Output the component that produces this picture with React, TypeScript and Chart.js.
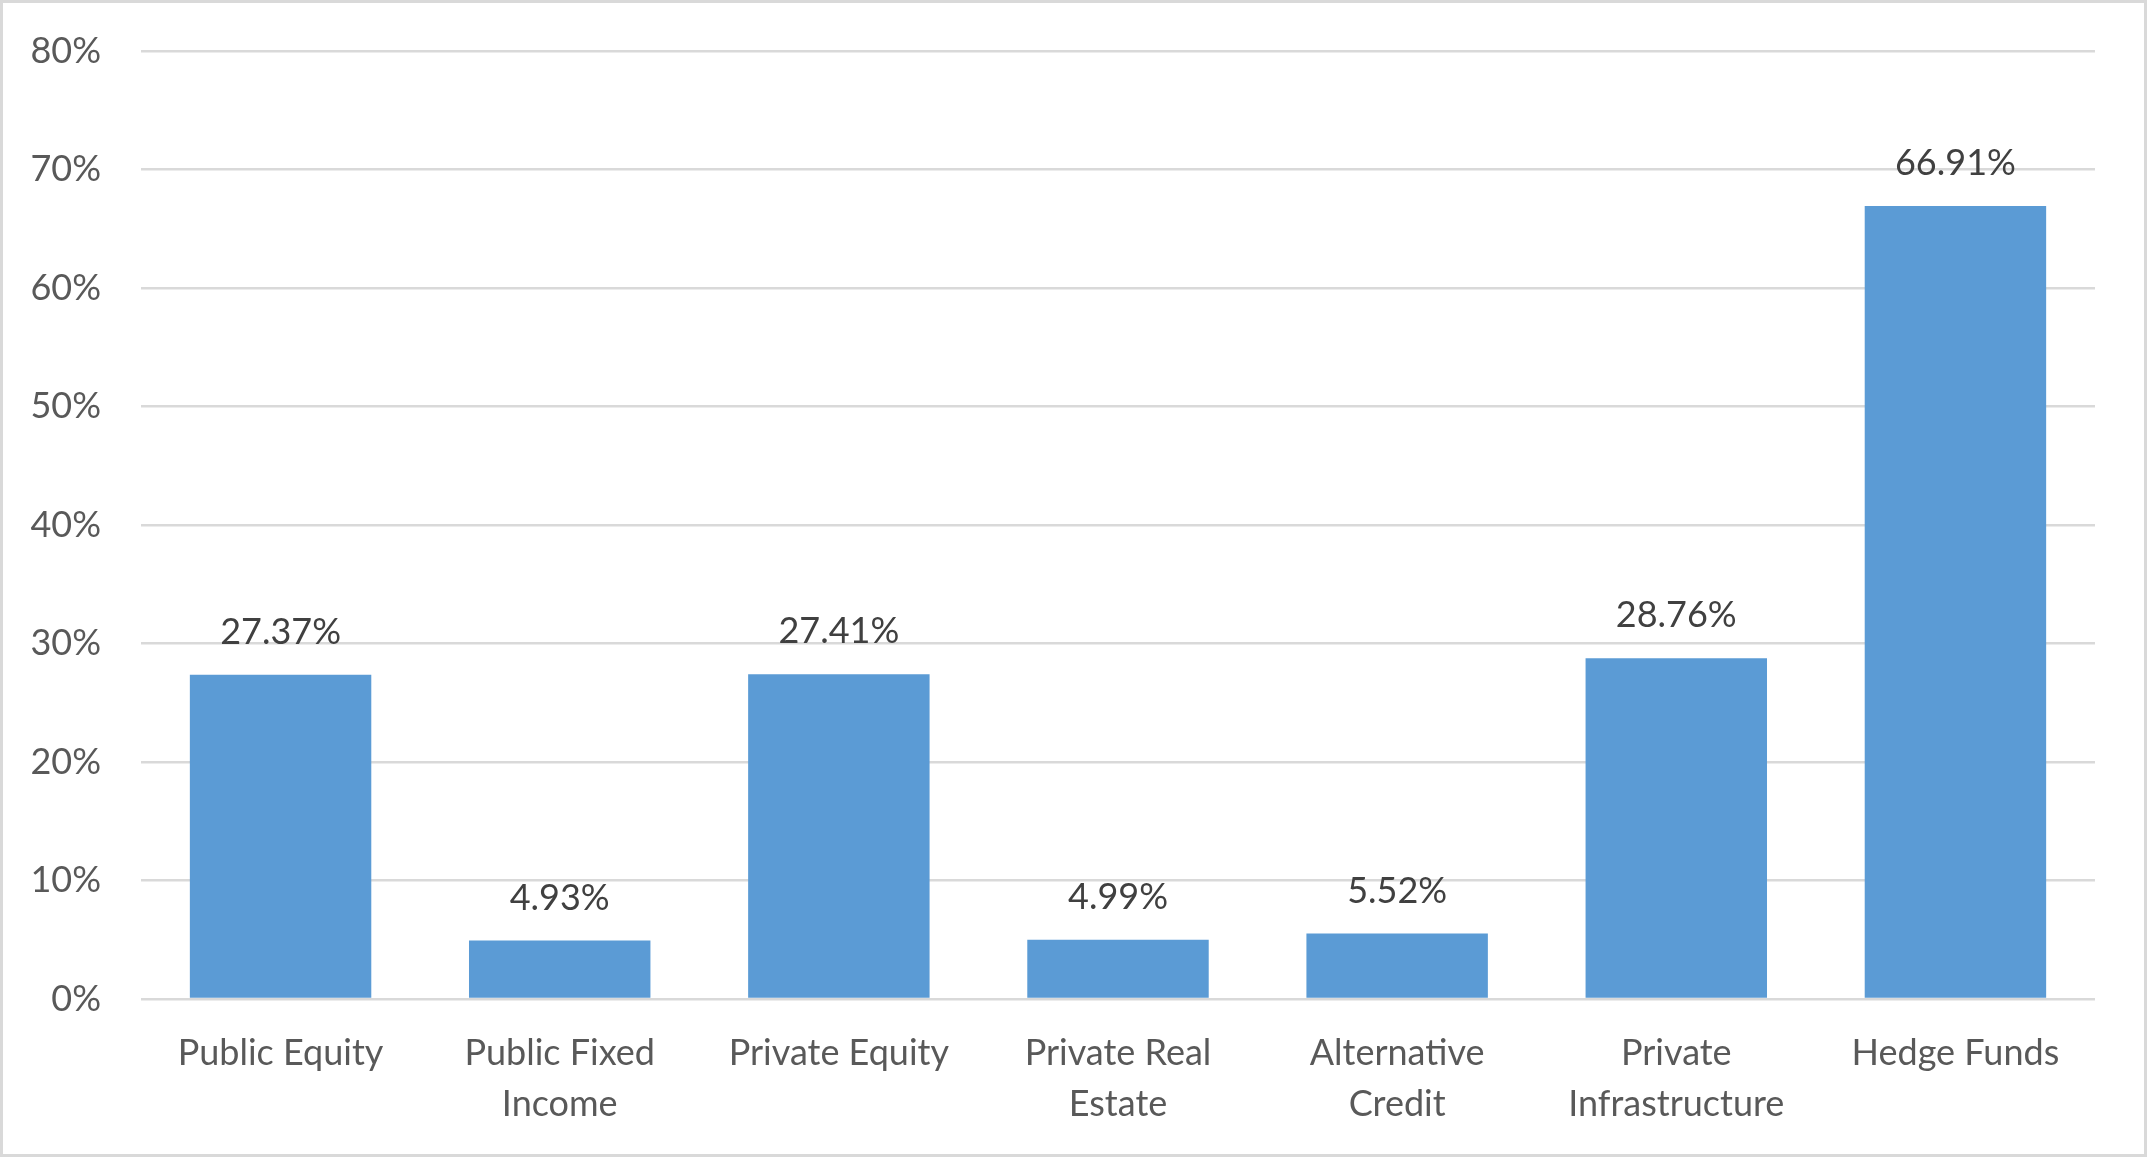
import React, { useEffect, useRef } from "react";
import { Chart, registerables } from "chart.js";

Chart.register(...registerables);

const categories: (string | string[])[] = [
  "Public Equity",
  ["Public Fixed", "Income"],
  "Private Equity",
  ["Private Real", "Estate"],
  ["Alternative", "Credit"],
  ["Private", "Infrastructure"],
  "Hedge Funds",
];
const values: number[] = [27.37, 4.93, 27.41, 4.99, 5.52, 28.76, 66.91];
const yTicks: number[] = [0, 10, 20, 30, 40, 50, 60, 70, 80];

const W = 2147;
const H = 1157;
const FONT = "Lato, 'Noto Sans', sans-serif";

const frame = {
  id: "frame",
  beforeDraw(chart: any) {
    const { ctx, width, height } = chart;
    ctx.save();
    ctx.fillStyle = "#ffffff";
    ctx.fillRect(0, 0, width, height);
    ctx.restore();
  },
  afterDraw(chart: any) {
    const { ctx, width, height } = chart;
    ctx.save();
    ctx.strokeStyle = "#d9d9d9";
    ctx.lineWidth = 3;
    ctx.strokeRect(1.5, 1.5, width - 3, height - 3);
    ctx.restore();
  },
};

const dataLabels = {
  id: "dataLabels",
  afterDatasetsDraw(chart: any) {
    const { ctx } = chart;
    const meta = chart.getDatasetMeta(0);
    ctx.save();
    ctx.font = `36px ${FONT}`;
    ctx.fillStyle = "#404040";
    ctx.textAlign = "center";
    ctx.textBaseline = "alphabetic";
    meta.data.forEach((bar: any, i: number) => {
      ctx.fillText(values[i].toFixed(2) + "%", bar.x, bar.y - 31);
    });
    ctx.restore();
  },
};

export default function App() {
  const ref = useRef<HTMLCanvasElement | null>(null);

  useEffect(() => {
    document.body.style.margin = "0";
    document.body.style.overflow = "hidden";
    if (!ref.current) return;
    const chart = new Chart(ref.current, {
      type: "bar",
      data: {
        labels: categories,
        datasets: [
          {
            data: values,
            backgroundColor: "#5b9bd5",
            barPercentage: 0.65,
            categoryPercentage: 1,
          },
        ],
      },
      options: {
        animation: false,
        responsive: true,
        maintainAspectRatio: false,
        devicePixelRatio: 1,
        layout: { padding: { top: 51, right: W - 2095, left: 0, bottom: 0 } },
        plugins: {
          legend: { display: false },
          tooltip: { enabled: false },
        },
        scales: {
          x: {
            grid: { display: false, drawTicks: false },
            border: { display: false },
            ticks: {
              color: "#595959",
              font: { family: FONT, size: 36, lineHeight: 1.44 },
              padding: 28,
              maxRotation: 0,
              autoSkip: false,
            },
            afterFit(scale: any) {
              scale.height = H - 999;
              scale.paddingLeft = 0;
              scale.paddingRight = 0;
            },
          },
          y: {
            min: 0,
            max: 80,
            afterBuildTicks(scale: any) {
              scale.ticks = yTicks.map((v) => ({ value: v }));
            },
            grid: { color: "#d9d9d9", lineWidth: 2.6, drawTicks: false },
            border: { display: false },
            ticks: {
              color: "#595959",
              font: { family: FONT, size: 36 },
              padding: 40,
              callback: (v: any) => v + "%",
            },
            afterFit(scale: any) {
              scale.width = 141;
              scale.paddingTop = 0;
              scale.paddingBottom = 0;
            },
          },
        },
      },
      plugins: [frame, dataLabels],
    });
    return () => chart.destroy();
  }, []);

  return (
    <div style={{ position: "relative", width: W, height: H }}>
      <canvas ref={ref} />
    </div>
  );
}
